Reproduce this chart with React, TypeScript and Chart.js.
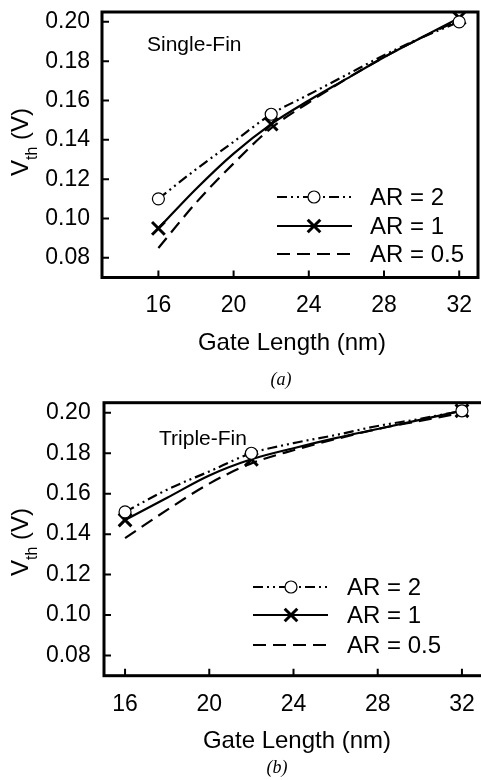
import React, { useEffect, useRef } from 'react';
import { Chart, registerables } from 'chart.js';

Chart.register(...registerables);

const FONT = "'Liberation Sans', Arial, Helvetica, sans-serif";
const SERIF = "'Liberation Serif', 'Times New Roman', serif";

// ---- data ----
const gateLengths = [16, 18, 20, 22, 24, 26, 28, 30, 32];
const markerLengths = [16, 22, 32];
const xTickValues = [16, 20, 24, 28, 32];
const yTickValues = [0.08, 0.1, 0.12, 0.14, 0.16, 0.18, 0.2];
const seriesLabels = ['AR = 2', 'AR = 1', 'AR = 0.5'];

const singleAR2 = [0.110, 0.125, 0.139, 0.153, 0.163, 0.173, 0.183, 0.192, 0.200];
const singleAR1 = [0.095, 0.115, 0.133, 0.148, 0.160, 0.171, 0.182, 0.192, 0.202];
const singleAR05 = [0.085, 0.108, 0.128, 0.146, 0.159, 0.171, 0.182, 0.192, 0.201];

const tripleAR2 = [0.151, 0.162, 0.171, 0.180, 0.185, 0.189, 0.1935, 0.197, 0.201];
const tripleAR1 = [0.147, 0.158, 0.169, 0.177, 0.1825, 0.1875, 0.192, 0.1965, 0.201];
const tripleAR05 = [0.138, 0.152, 0.165, 0.175, 0.1815, 0.187, 0.192, 0.196, 0.200];

type Panel = {
  series: number[][];
  annotation: string;
  caption: string;
  width: number;
  yWidth: number;
  padRight: number;
  padTop: number;
  xHeight: number;
  xMin: number;
  xMax: number;
  xTickPad: number;
  yTickPad: number;
  yTitle: [number, number];
  xTitle: [number, number];
  captionPos: [number, number];
  annPos: [number, number];
  legend: { x0: number; x1: number; mx: number; tx: number; ys: number[] };
};

const panels: Panel[] = [
  {
    series: [singleAR2, singleAR1, singleAR05],
    annotation: 'Single-Fin',
    caption: '(a)',
    width: 490,
    yWidth: 102,
    padRight: 8,
    padTop: 5.5,
    xHeight: 112.5,
    xMin: 13,
    xMax: 33,
    xTickPad: 14.2,
    yTickPad: 12,
    yTitle: [28, 142],
    xTitle: [292, 350],
    captionPos: [281, 385],
    annPos: [147, 51],
    legend: { x0: 277, x1: 352, mx: 314, tx: 370, ys: [197, 226, 254] },
  },
  {
    series: [tripleAR2, tripleAR1, tripleAR05],
    annotation: 'Triple-Fin',
    caption: '(b)',
    width: 495,
    yWidth: 104,
    padRight: 10.6,
    padTop: 12.7,
    xHeight: 104.3,
    xMin: 15,
    xMax: 33,
    xTickPad: 14.7,
    yTickPad: 13.3,
    yTitle: [28, 152],
    xTitle: [297, 358],
    captionPos: [277, 383],
    annPos: [159, 55],
    legend: { x0: 253, x1: 328, mx: 291, tx: 347, ys: [197, 225, 255] },
  },
];

const dashes = [[10, 4, 2, 4, 2, 4], [], [13, 7]];
const markers = ['circle', 'cross', 'none'];

function drawCircle(ctx: CanvasRenderingContext2D, x: number, y: number) {
  ctx.save();
  ctx.setLineDash([]);
  ctx.beginPath();
  ctx.arc(x, y, 6, 0, Math.PI * 2);
  ctx.fillStyle = '#fff';
  ctx.fill();
  ctx.lineWidth = 1.2;
  ctx.strokeStyle = '#000';
  ctx.stroke();
  ctx.restore();
}

function drawCross(ctx: CanvasRenderingContext2D, x: number, y: number) {
  const d = 6.3;
  ctx.save();
  ctx.setLineDash([]);
  ctx.lineWidth = 3;
  ctx.strokeStyle = '#000';
  ctx.beginPath();
  ctx.moveTo(x - d, y - d);
  ctx.lineTo(x + d, y + d);
  ctx.moveTo(x + d, y - d);
  ctx.lineTo(x - d, y + d);
  ctx.stroke();
  ctx.restore();
}

function PanelChart({ cfg }: { cfg: Panel }) {
  const ref = useRef<HTMLCanvasElement>(null);
  useEffect(() => {
    const canvas = ref.current;
    if (!canvas) return;
    const datasets = cfg.series.map((s, k) => ({
      label: seriesLabels[k],
      data: gateLengths.map((x, i) => ({ x, y: s[i] })),
      borderColor: '#000',
      borderWidth: 2.2,
      borderDash: dashes[k],
      cubicInterpolationMode: 'monotone' as const,
      fill: false,
      pointStyle: (markers[k] === 'cross' ? 'crossRot' : 'circle') as any,
      pointRadius: gateLengths.map((x) => (markers[k] !== 'none' && markerLengths.includes(x) ? (markers[k] === 'cross' ? 9 : 6) : 0)),
      pointBackgroundColor: '#fff',
      pointBorderColor: '#000',
      pointBorderWidth: markers[k] === 'cross' ? 3 : 1.2,
    }));

    const deco = {
      id: 'deco',
      afterDraw(chart: any) {
        const { ctx, chartArea: a, scales } = chart;
        const xs = scales.x;
        const ys = scales.y;
        ctx.save();
        ctx.strokeStyle = '#000';
        ctx.fillStyle = '#000';
        // inner ticks
        ctx.lineWidth = 2;
        ctx.beginPath();
        xTickValues.forEach((v) => {
          const px = xs.getPixelForValue(v);
          ctx.moveTo(px, a.bottom);
          ctx.lineTo(px, a.bottom - 7);
        });
        yTickValues.forEach((v) => {
          const py = ys.getPixelForValue(v);
          ctx.moveTo(a.left, py);
          ctx.lineTo(a.left + 7, py);
        });
        ctx.stroke();
        // frame
        ctx.lineWidth = 3;
        ctx.strokeRect(a.left, a.top, a.right - a.left, a.bottom - a.top);

        // annotation
        ctx.font = `21px ${FONT}`;
        ctx.textAlign = 'left';
        ctx.textBaseline = 'alphabetic';
        ctx.fillText(cfg.annotation, cfg.annPos[0], cfg.annPos[1]);

        // x title
        ctx.font = `24px ${FONT}`;
        ctx.textAlign = 'center';
        ctx.fillText('Gate Length (nm)', cfg.xTitle[0], cfg.xTitle[1]);

        // caption
        ctx.font = `italic 18px ${SERIF}`;
        ctx.fillText(cfg.caption, cfg.captionPos[0], cfg.captionPos[1]);

        // y title with subscript
        ctx.save();
        ctx.translate(cfg.yTitle[0], cfg.yTitle[1]);
        ctx.rotate(-Math.PI / 2);
        ctx.textAlign = 'left';
        const mainF = `24px ${FONT}`;
        const subF = `16px ${FONT}`;
        ctx.font = mainF;
        const wV = ctx.measureText('V').width;
        const wRest = ctx.measureText(' (V)').width;
        ctx.font = subF;
        const wSub = ctx.measureText('th').width;
        const x0 = -(wV + wSub + wRest) / 2;
        ctx.font = mainF;
        ctx.fillText('V', x0, 0);
        ctx.font = subF;
        ctx.fillText('th', x0 + wV, 9);
        ctx.font = mainF;
        ctx.fillText(' (V)', x0 + wV + wSub, 0);
        ctx.restore();

        // legend
        const L = cfg.legend;
        chart.data.datasets.forEach((ds: any, k: number) => {
          const y = L.ys[k];
          ctx.save();
          ctx.lineWidth = ds.borderWidth;
          ctx.setLineDash(ds.borderDash || []);
          ctx.beginPath();
          ctx.moveTo(L.x0, y);
          ctx.lineTo(L.x1, y);
          ctx.stroke();
          ctx.restore();
          if (markers[k] === 'circle') drawCircle(ctx, L.mx, y);
          if (markers[k] === 'cross') drawCross(ctx, L.mx, y);
          ctx.font = `24px ${FONT}`;
          ctx.textAlign = 'left';
          ctx.textBaseline = 'middle';
          ctx.fillText(ds.label, L.tx, y + 1);
        });
        ctx.restore();
      },
    };

    const chart = new Chart(canvas, {
      type: 'line',
      data: { datasets: datasets as any },
      options: {
        animation: false,
        responsive: false,
        events: [],
        layout: { padding: { top: cfg.padTop, right: cfg.padRight, left: 0, bottom: 0 } },
        plugins: { legend: { display: false }, tooltip: { enabled: false }, title: { display: false } },
        scales: {
          x: {
            type: 'linear',
            min: cfg.xMin,
            max: cfg.xMax,
            grid: { display: false, drawTicks: false },
            border: { display: false },
            ticks: {
              font: { family: FONT, size: 23 },
              color: '#000',
              padding: cfg.xTickPad,
              maxRotation: 0,
              autoSkip: false,
              callback: (v: any) => String(v),
            },
            afterBuildTicks: (s: any) => {
              s.ticks = xTickValues.map((v) => ({ value: v }));
            },
            afterFit: (s: any) => {
              s.height = cfg.xHeight;
              s.paddingLeft = 0;
              s.paddingRight = 0;
            },
          },
          y: {
            type: 'linear',
            min: 0.07,
            max: 0.205,
            grid: { display: false, drawTicks: false },
            border: { display: false },
            ticks: {
              font: { family: FONT, size: 23 },
              color: '#000',
              padding: cfg.yTickPad,
              autoSkip: false,
              callback: (v: any) => Number(v).toFixed(2),
            },
            afterBuildTicks: (s: any) => {
              s.ticks = yTickValues.map((v) => ({ value: v }));
            },
            afterFit: (s: any) => {
              s.width = cfg.yWidth;
              s.paddingTop = 0;
              s.paddingBottom = 0;
            },
          },
        },
      },
      plugins: [deco],
    });
    return () => chart.destroy();
  }, [cfg]);
  return <canvas ref={ref} width={cfg.width} height={390} style={{ display: 'block', width: cfg.width, height: 390 }} />;
}

export default function App() {
  return (
    <div style={{ position: 'fixed', left: 0, top: 0, width: 481, height: 780, overflow: 'hidden', background: '#fff' }}>
      {panels.map((p, i) => (
        <PanelChart key={i} cfg={p} />
      ))}
    </div>
  );
}
